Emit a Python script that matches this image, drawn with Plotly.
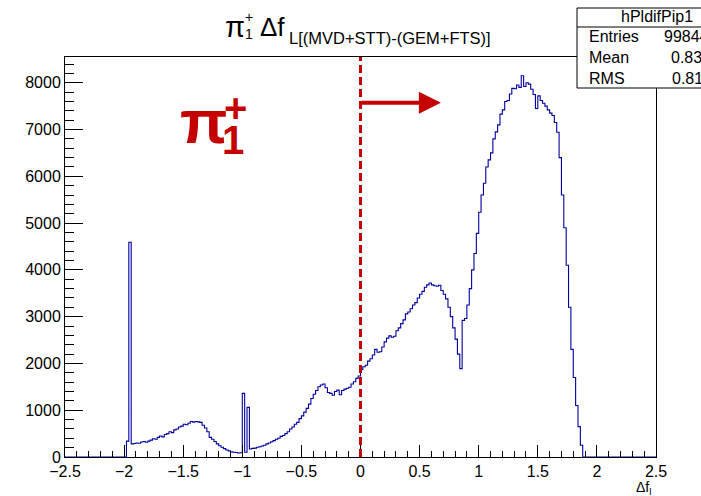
import plotly.graph_objects as go

# ---------------- data ----------------
first_edge = -1.98
bin_width = 0.02
counts = [
    340, 4590, 280, 290, 300, 295, 320, 330, 315, 340,
    360, 390, 380, 420, 450, 430, 480, 500, 540, 520,
    580, 600, 640, 660, 700, 690, 720, 760, 745, 760,
    750, 740, 680, 620, 540, 420, 380, 330, 280, 240,
    210, 180, 150, 130, 110, 100, 95, 85, 90, 1360,
    100, 1060, 170, 185, 190, 210, 220, 235, 250, 280,
    300, 325, 350, 380, 400, 440, 460, 500, 540, 600,
    640, 700, 740, 820, 880, 960, 1040, 1130, 1250, 1340,
    1420, 1500, 1540, 1560, 1480, 1380, 1360, 1320, 1400, 1430,
    1330, 1420, 1450, 1470, 1490, 1560, 1610, 1680, 1730, 1870,
    1930, 1960, 2050, 2100, 2180, 2300, 2240, 2250, 2350, 2460,
    2540, 2590, 2560, 2580, 2700, 2760, 2850, 2930, 3060, 3100,
    3170, 3250, 3300, 3400, 3480, 3540, 3630, 3680, 3720, 3680,
    3660, 3650, 3670, 3560, 3480, 3380, 3200, 3000, 2760, 2520,
    2200, 1890, 2920, 2960, 3250, 3600, 4000, 4350, 4780, 5230,
    5600, 5850, 6200, 6350, 6500, 6800, 6950, 7100, 7330, 7420,
    7600, 7620, 7760, 7880, 7870, 7950, 7900, 8150, 7920, 8000,
    7970, 7860, 7750, 7450, 7720, 7620, 7560, 7500, 7420, 7350,
    7300, 7150, 6940, 6400, 5600, 4900, 4100, 3200, 2300, 1700,
    1100, 650, 250,
]
x_range = [-2.5, 2.5]
y_range = [0, 8550]
hist_name = "hPldifPip1"
stats_labels = ["Entries", "Mean", "RMS"]
stats_values = ["99844", "0.8344", "0.8144"]
cut_position = 0.0
arrow_end = 0.68
arrow_level = 7570

# ---------------- geometry ----------------
W, H = 701, 496
L, R, T, B = 65, 45, 57, 39
PW, PH = W - L - R, H - T - B


def px(xp):
    return (xp - L) / PW


def py(yp):
    return (H - B - yp) / PH


# step outline of the histogram (with zero bins on both sides)
n_left = round((first_edge - x_range[0]) / bin_width)
edges = [x_range[0] + i * bin_width for i in range(n_left)]
vals = [0] * n_left
for i, c in enumerate(counts):
    edges.append(first_edge + i * bin_width)
    vals.append(c)
e = first_edge + len(counts) * bin_width
while e < x_range[1] - 1e-9:
    edges.append(e)
    vals.append(0)
    e += bin_width
edges.append(x_range[1])
vals.append(0)

BLUE = "#0000a0"
RED = "#c40000"
FONT = "Liberation Sans"

fig = go.Figure()
fig.add_trace(go.Scatter(x=edges, y=vals, mode="lines",
                         line=dict(color=BLUE, width=1.1, shape="hv"),
                         hoverinfo="skip", showlegend=False))

axis_common = dict(showline=True, linecolor="black", linewidth=1, mirror=True,
                   showgrid=False, zeroline=False, ticks="inside",
                   tickcolor="black", tickfont=dict(family=FONT, size=16, color="black"))

fig.update_xaxes(range=x_range, dtick=0.5, tick0=-2.5, ticklen=12,
                 minor=dict(dtick=0.1, ticklen=6, ticks="inside", tickcolor="black"),
                 **axis_common)
fig.update_yaxes(range=y_range, dtick=1000, tick0=0, ticklen=18,
                 minor=dict(dtick=200, ticklen=9, ticks="inside", tickcolor="black"),
                 **axis_common)

shapes = []
# dashed cut line
shapes.append(dict(type="line", xref="x", yref="paper", x0=cut_position, x1=cut_position,
                   y0=0, y1=1, line=dict(color=RED, width=3, dash="8px,4px")))
# stats box
shapes.append(dict(type="rect", xref="paper", yref="paper", x0=px(577), x1=px(740),
                   y0=py(88), y1=py(8), line=dict(color="black", width=1), fillcolor="white",
                   layer="above"))
shapes.append(dict(type="line", xref="paper", yref="paper", x0=px(577), x1=px(740),
                   y0=py(27), y1=py(27), line=dict(color="black", width=1), layer="above"))

ann = []


def txt(t, x, y, size, xanchor="left", color="black", bold=False, yanchor="middle"):
    ann.append(dict(text=("<b>%s</b>" % t) if bold else t, xref="paper", yref="paper",
                    x=px(x), y=py(y), xanchor=xanchor, yanchor=yanchor, showarrow=False,
                    font=dict(family=FONT, size=size, color=color)))


# title
txt("π", 235, 27, 29, xanchor="center")
txt("+", 249, 17, 14, xanchor="center")
txt("1", 249, 34, 14, xanchor="center")
txt("Δf", 258, 27, 26)
txt("L[(MVD+STT)-(GEM+FTS)]", 287, 38, 16.5)

# stats text
txt(hist_name, 657, 17, 16, xanchor="center")
stats_y = [36, 57, 78]
stats_x = [662, 669, 670]
for lab, val, yy, xx in zip(stats_labels, stats_values, stats_y, stats_x):
    txt(lab, 587, yy, 16)
    txt(val, xx, yy, 16)

# x axis title
txt("Δf<sub>l</sub>", 653, 488, 14, xanchor="right")

# big label
txt("π", 203, 122, 62, xanchor="center", color=RED, bold=True)
txt("+", 235, 108, 40, xanchor="center", color=RED, bold=True)
txt("1", 233, 140, 40, xanchor="center", color=RED, bold=True)

# arrow
ann.append(dict(x=arrow_end, y=arrow_level, ax=cut_position, ay=arrow_level,
                xref="x", yref="y", axref="x", ayref="y", text="", showarrow=True,
                arrowhead=2, arrowsize=1.1, arrowwidth=4, arrowcolor=RED))

fig.update_layout(width=W, height=H, margin=dict(l=L, r=R, t=T, b=B, pad=0),
                  paper_bgcolor="white", plot_bgcolor="white",
                  shapes=shapes, annotations=ann, showlegend=False)

fig.write_html("out.html")
